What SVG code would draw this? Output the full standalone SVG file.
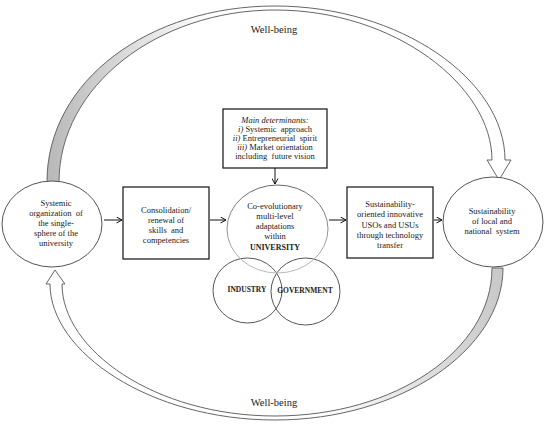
<svg xmlns="http://www.w3.org/2000/svg" width="550" height="427" viewBox="0 0 550 427">
<defs>
<style>
text{font-family:"Liberation Serif","Times New Roman",serif;fill:#1a1a1a;text-anchor:middle}
.t{font-size:8.5px}
.b{font-weight:bold}
.node{fill:#fff;stroke:#555;stroke-width:1}
.box{fill:#fff;stroke:#222;stroke-width:1.3}
.band{stroke:#666;stroke-width:1}
.conn{stroke:#111;stroke-width:1;fill:none;marker-end:url(#ah)}
</style>
<marker id="ah" markerWidth="7" markerHeight="7" refX="6" refY="3.5" orient="auto" markerUnits="userSpaceOnUse">
<path d="M0.5,0.5 L6,3.5 L0.5,6.5" fill="none" stroke="#111" stroke-width="1"/>
</marker>
<linearGradient id="gTop" x1="0" y1="0" x2="1" y2="0">
<stop offset="0" stop-color="#b8b8b8"/>
<stop offset="0.35" stop-color="#ffffff"/>
<stop offset="1" stop-color="#ffffff"/>
</linearGradient>
<linearGradient id="gBot" x1="1" y1="0" x2="0" y2="0">
<stop offset="0" stop-color="#c8c8c8"/>
<stop offset="0.4" stop-color="#ffffff"/>
<stop offset="1" stop-color="#ffffff"/>
</linearGradient>
<linearGradient id="gUni" x1="0" y1="0" x2="0" y2="1">
<stop offset="0" stop-color="#666"/>
<stop offset="1" stop-color="#bbb"/>
</linearGradient>
</defs>

<g id="loops">
<path id="top-arc" class="band" fill="url(#gTop)" d="M47,182 C47,80 150,6 275,6 C400,6 505,80 505,160 L511,160 L499,180 L487,160 L492,160 C492,86 395,10 275,10 C158,10 59,86 59,182 Z"/>
<path id="bottom-arc" class="band" fill="url(#gBot)" d="M492,268 L503,268 C503,350 400,420 275,420 C150,420 50,352 50,284 L46,284 L55,270 L65,284 L62,284 C62,350 155,416 275,416 C395,416 492,350 492,268 Z"/>
<text x="274" y="33" style="font-size:10.5px">Well-being</text>
<text x="274" y="406" style="font-size:10.5px">Well-being</text>
</g>

<g id="left-circle">
<ellipse class="node" cx="52" cy="224" rx="50" ry="43"/>
<text class="t" x="56" y="206">Systemic</text>
<text class="t" x="56" y="216" xml:space="preserve">organization  of</text>
<text class="t" x="56" y="226">the single-</text>
<text class="t" x="56" y="236">sphere of the</text>
<text class="t" x="56" y="246">university</text>
</g>

<g id="box-consolidation">
<rect class="box" x="123" y="187" width="86" height="72"/>
<text class="t" x="166" y="213">Consolidation/</text>
<text class="t" x="166" y="223">renewal of</text>
<text class="t" x="166" y="233" xml:space="preserve">skills  and</text>
<text class="t" x="166" y="243">competencies</text>
</g>

<g id="box-determinants">
<rect class="box" x="223" y="109" width="104" height="59"/>
<text class="t" x="275" y="123" font-style="italic">Main determinants:</text>
<text class="t" x="275" y="132" xml:space="preserve"><tspan font-style="italic">i)</tspan> Systemic  approach</text>
<text class="t" x="275" y="141" xml:space="preserve"><tspan font-style="italic">ii)</tspan> Entrepreneurial  spirit</text>
<text class="t" x="275" y="150" xml:space="preserve"><tspan font-style="italic">iii)</tspan> Market orientation</text>
<text class="t" x="275" y="159" xml:space="preserve">including  future vision</text>
</g>

<g id="industry">
<ellipse cx="247.5" cy="290.5" rx="34.5" ry="32.5" fill="none" stroke="#555" stroke-width="1"/>
<text class="b" x="247" y="292" style="font-size:7.5px">INDUSTRY</text>
</g>

<g id="government">
<ellipse cx="305.5" cy="291.5" rx="34.5" ry="33.5" fill="none" stroke="#555" stroke-width="1"/>
<text class="b" x="305" y="293" style="font-size:7.5px">GOVERNMENT</text>
</g>

<g id="university">
<ellipse cx="277.5" cy="229" rx="50.5" ry="44" fill="none" stroke="url(#gUni)" stroke-width="1"/>
<text class="t" x="275" y="209">Co-evolutionary</text>
<text class="t" x="275" y="219">multi-level</text>
<text class="t" x="275" y="229">adaptations</text>
<text class="t" x="275" y="239">within</text>
<text class="b" x="275" y="250" style="font-size:8px">UNIVERSITY</text>
</g>

<g id="box-usos">
<rect class="box" x="347" y="187" width="86" height="71"/>
<text class="t" x="390" y="207">Sustainability-</text>
<text class="t" x="390" y="217">oriented innovative</text>
<text class="t" x="390" y="228">USOs and USUs</text>
<text class="t" x="390" y="238">through technology</text>
<text class="t" x="390" y="248">transfer</text>
</g>

<g id="right-circle">
<ellipse class="node" cx="493" cy="222" rx="50" ry="45"/>
<text class="t" x="492" y="214">Sustainability</text>
<text class="t" x="492" y="224">of local and</text>
<text class="t" x="492" y="234" xml:space="preserve">national  system</text>
</g>

<g id="connectors">
<line class="conn" x1="104" y1="220" x2="122" y2="220"/>
<line class="conn" x1="210" y1="220" x2="226" y2="220"/>
<line class="conn" x1="275" y1="168" x2="275" y2="184"/>
<line class="conn" x1="329" y1="220" x2="346" y2="220"/>
<line class="conn" x1="434" y1="220" x2="442" y2="220"/>
</g>
</svg>
